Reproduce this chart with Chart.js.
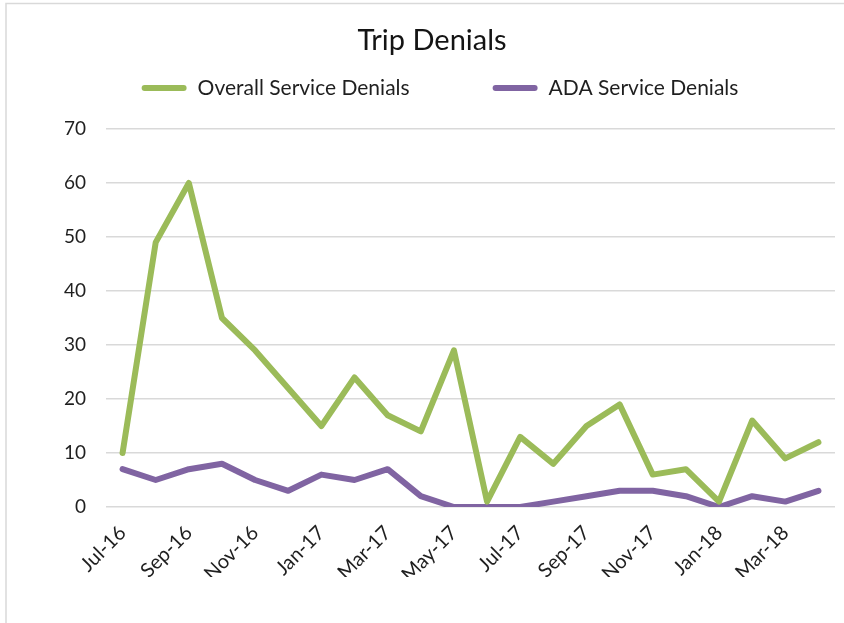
<!DOCTYPE html>
<html>
<head>
<meta charset="utf-8">
<script src="https://cdn.jsdelivr.net/npm/chart.js@4.4.1/dist/chart.umd.min.js"></script>
<style>
  html, body { margin: 0; padding: 0; background: #ffffff; }
  #wrap { position: absolute; left: 0; top: 0; width: 844px; height: 623px; }
</style>
</head>
<body>
<div id="wrap"><canvas id="c" width="844" height="623"></canvas></div>
<script>
const months = ["Jul-16","Aug-16","Sep-16","Oct-16","Nov-16","Dec-16","Jan-17","Feb-17","Mar-17","Apr-17","May-17","Jun-17",
                "Jul-17","Aug-17","Sep-17","Oct-17","Nov-17","Dec-17","Jan-18","Feb-18","Mar-18","Apr-18"];
const overallDenials = [10,49,60,35,29,22,15,24,17,14,29,1,13,8,15,19,6,7,1,16,9,12];
const adaDenials     = [7,5,7,8,5,3,6,5,7,2,0,0,0,1,2,3,3,2,0,2,1,3];
const seriesNames = ["Overall Service Denials","ADA Service Denials"];
const seriesColors = ["#9BBB59","#8064A2"];
const chartTitle = "Trip Denials";
const yMax = 70, yStep = 10;

const FONT = "Lato, 'Liberation Sans', sans-serif";

const borderPlugin = {
  id: 'frame',
  beforeDraw(chart) {
    const ctx = chart.ctx;
    ctx.save();
    ctx.strokeStyle = '#d9d9d9';
    ctx.lineWidth = 1.5;
    ctx.beginPath();
    ctx.moveTo(6, 623); ctx.lineTo(6, 3.5); ctx.lineTo(844, 3.5);
    ctx.stroke();
    ctx.restore();
  }
};

const legendPlugin = {
  id: 'customLegend',
  afterDraw(chart) {
    const ctx = chart.ctx;
    const ds = chart.data.datasets;
    const swatchW = 45, gapText = 11, gapItems = 83, y = 88;
    ctx.save();
    ctx.font = "21px " + FONT;
    const widths = ds.map(d => ctx.measureText(d.label).width);
    let total = 0;
    widths.forEach((w, i) => { total += swatchW + gapText + w + (i < widths.length - 1 ? gapItems : 0); });
    let x = 440 - total / 2;
    ds.forEach((d, i) => {
      ctx.strokeStyle = d.borderColor;
      ctx.lineWidth = 6;
      ctx.lineCap = 'round';
      ctx.beginPath();
      ctx.moveTo(x + 3, y); ctx.lineTo(x + swatchW - 3, y);
      ctx.stroke();
      ctx.fillStyle = '#1f1f1f';
      ctx.textBaseline = 'middle';
      ctx.textAlign = 'left';
      ctx.fillText(d.label, x + swatchW + gapText, y);
      x += swatchW + gapText + widths[i] + gapItems;
    });
    ctx.restore();
  }
};

new Chart(document.getElementById('c'), {
  type: 'line',
  data: {
    labels: months,
    datasets: [
      { label: seriesNames[0], data: overallDenials, borderColor: seriesColors[0], backgroundColor: seriesColors[0],
        borderWidth: 6, pointRadius: 0, tension: 0, borderCapStyle: 'round', borderJoinStyle: 'round' },
      { label: seriesNames[1], data: adaDenials, borderColor: seriesColors[1], backgroundColor: seriesColors[1],
        borderWidth: 6, pointRadius: 0, tension: 0, borderCapStyle: 'round', borderJoinStyle: 'round' }
    ]
  },
  options: {
    responsive: false,
    animation: false,
    devicePixelRatio: 1,
    layout: { padding: { left: 29, right: 9, top: 0, bottom: 46 } },
    plugins: {
      legend: { display: false },
      tooltip: { enabled: false },
      title: {
        display: true,
        text: chartTitle,
        color: '#141414',
        font: { family: FONT, size: 29, weight: 'normal', lineHeight: 1.2 },
        padding: { top: 23, bottom: 71.2 }
      }
    },
    scales: {
      x: {
        offset: true,
        grid: { display: false, drawTicks: false },
        border: { display: false },
        afterFit(s) { s.height = 70; s.paddingRight = 0; s.paddingLeft = 0; },
        ticks: {
          autoSkip: false,
          minRotation: 45, maxRotation: 45,
          padding: 14,
          color: '#1f1f1f',
          font: { family: FONT, size: 20 },
          callback(v, i) { return i % 2 === 0 ? this.getLabelForValue(v) : ''; }
        }
      },
      y: {
        min: 0, max: yMax,
        grid: { color: '#d9d9d9', lineWidth: 1.5, drawTicks: false },
        border: { display: false },
        afterFit(s) { s.width = 77; s.paddingTop = 0; s.paddingBottom = 0; },
        ticks: {
          stepSize: yStep,
          padding: 20,
          color: '#1f1f1f',
          font: { family: FONT, size: 19 }
        }
      }
    }
  },
  plugins: [borderPlugin, legendPlugin]
});
</script>
</body>
</html>
